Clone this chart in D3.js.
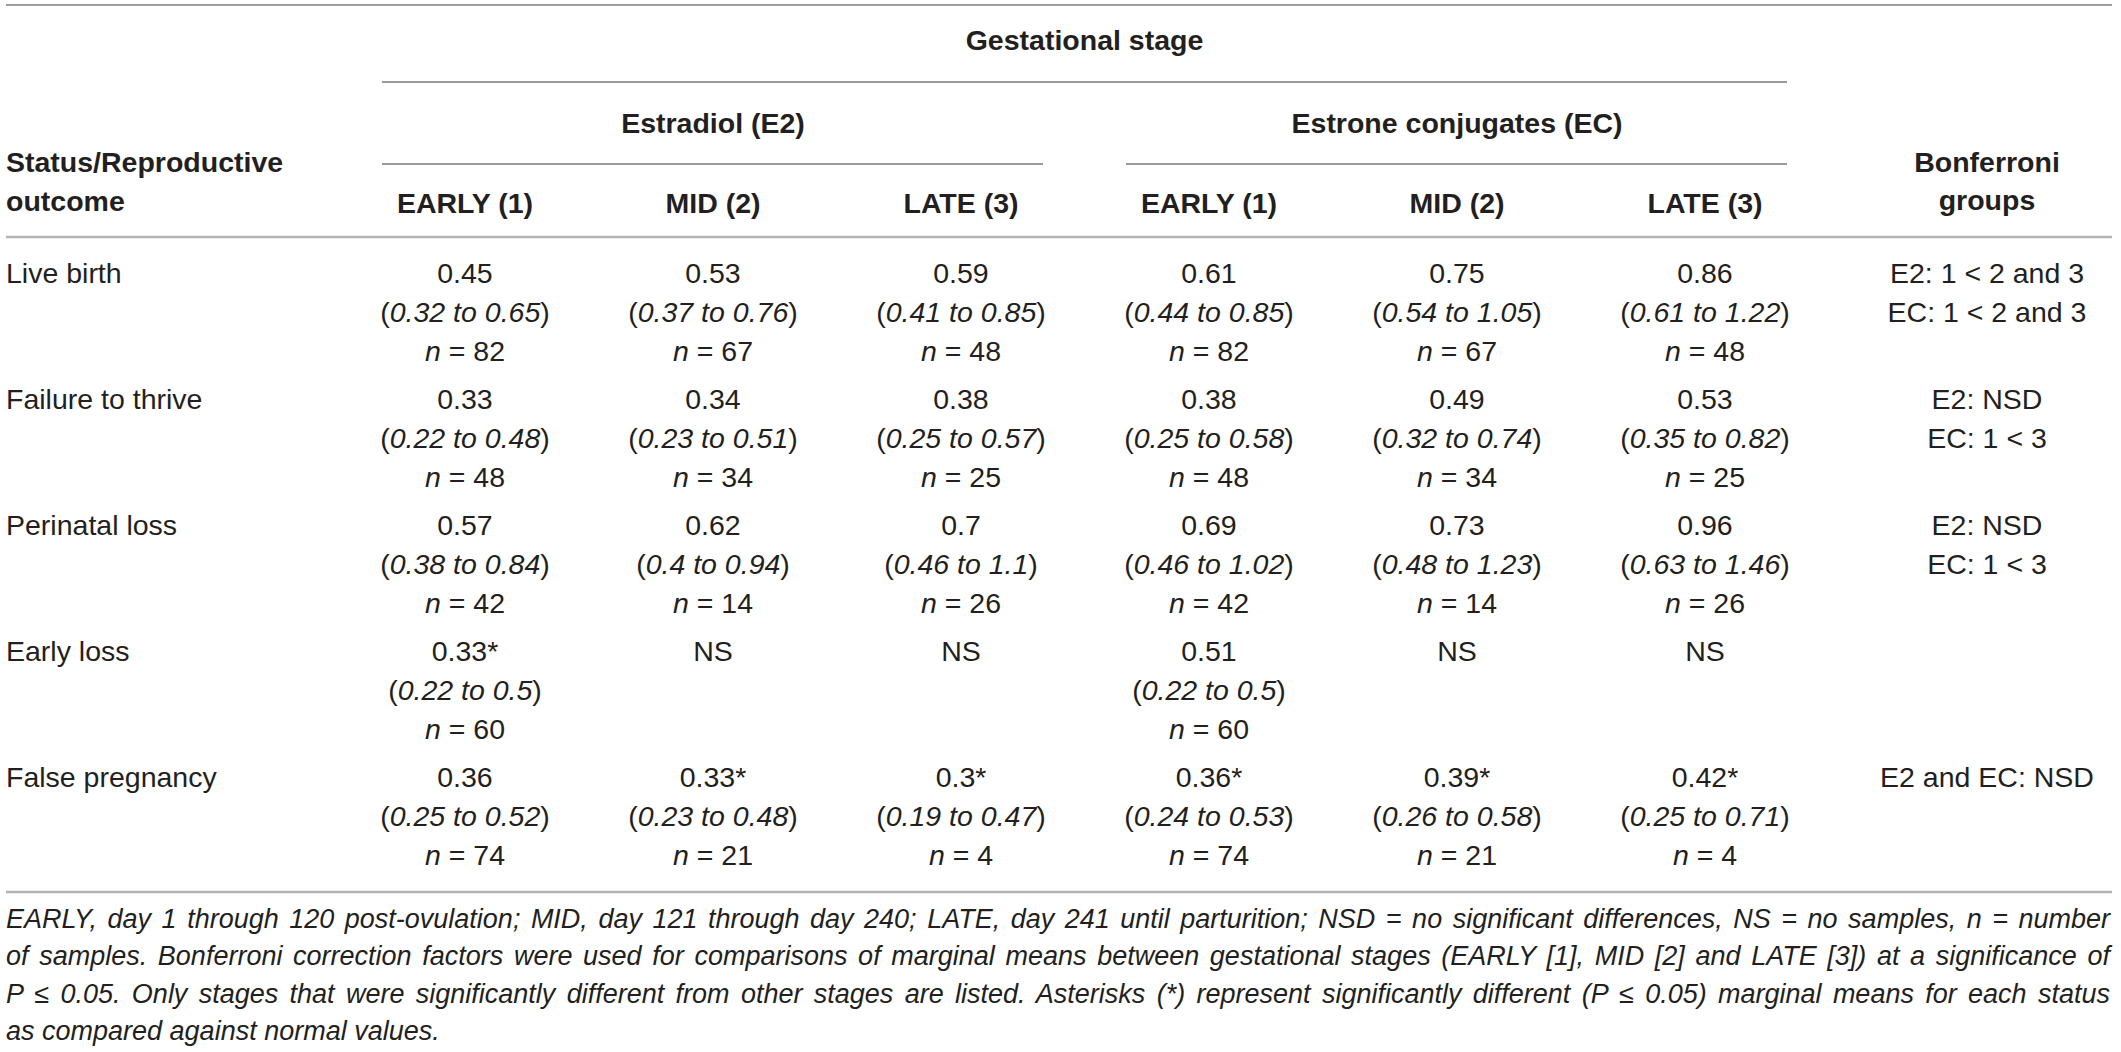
<!DOCTYPE html>
<html><head><meta charset="utf-8">
<script src="https://cdn.jsdelivr.net/npm/d3@7"></script>
<style>body{margin:0;background:#fff}svg{display:block;background:#fff}</style>
</head><body><svg id="c" width="2121" height="1052"></svg>
<script>
// ---------- data ----------
const outcomes = ["Live birth", "Failure to thrive", "Perinatal loss", "Early loss", "False pregnancy"];
const stages = ["EARLY (1)", "MID (2)", "LATE (3)"];
const hormones = ["Estradiol (E2)", "Estrone conjugates (EC)"];

const e2Mean = [[0.45, 0.53, 0.59], [0.33, 0.34, 0.38], [0.57, 0.62, 0.7], [0.33, null, null], [0.36, 0.33, 0.3]];
const e2Low  = [[0.32, 0.37, 0.41], [0.22, 0.23, 0.25], [0.38, 0.4, 0.46], [0.22, null, null], [0.25, 0.23, 0.19]];
const e2High = [[0.65, 0.76, 0.85], [0.48, 0.51, 0.57], [0.84, 0.94, 1.1], [0.5, null, null], [0.52, 0.48, 0.47]];
const e2N    = [[82, 67, 48], [48, 34, 25], [42, 14, 26], [60, null, null], [74, 21, 4]];
const e2Star = [[0, 0, 0], [0, 0, 0], [0, 0, 0], [1, 0, 0], [0, 1, 1]];

const ecMean = [[0.61, 0.75, 0.86], [0.38, 0.49, 0.53], [0.69, 0.73, 0.96], [0.51, null, null], [0.36, 0.39, 0.42]];
const ecLow  = [[0.44, 0.54, 0.61], [0.25, 0.32, 0.35], [0.46, 0.48, 0.63], [0.22, null, null], [0.24, 0.26, 0.25]];
const ecHigh = [[0.85, 1.05, 1.22], [0.58, 0.74, 0.82], [1.02, 1.23, 1.46], [0.5, null, null], [0.53, 0.58, 0.71]];
const ecN    = [[82, 67, 48], [48, 34, 25], [42, 14, 26], [60, null, null], [74, 21, 4]];
const ecStar = [[0, 0, 0], [0, 0, 0], [0, 0, 0], [0, 0, 0], [1, 1, 1]];

const bonferroni = [
  ["E2: 1 < 2 and 3", "EC: 1 < 2 and 3"],
  ["E2: NSD", "EC: 1 < 3"],
  ["E2: NSD", "EC: 1 < 3"],
  [],
  ["E2 and EC: NSD"]
];

const footnote = [
  "EARLY, day 1 through 120 post-ovulation; MID, day 121 through day 240; LATE, day 241 until parturition; NSD = no significant differences, NS = no samples, n = number",
  "of samples. Bonferroni correction factors were used for comparisons of marginal means between gestational stages (EARLY [1], MID [2] and LATE [3]) at a significance of",
  "P \u2264 0.05. Only stages that were significantly different from other stages are listed. Asterisks (*) represent significantly different (P \u2264 0.05) marginal means for each status",
  "as compared against normal values."
];

// ---------- layout ----------
const svg = d3.select("#c");
const FONT = "'Liberation Sans', Arial, Helvetica, sans-serif";
const INK = "#231f20";
const FS = 28.5;
const LEFT = 6, RIGHT = 2112;

const xCol = d3.scaleBand().domain(d3.range(6)).range([341, 1829]);
const cx = i => xCol(i) + xCol.bandwidth() / 2;
const bonfX = 1987;
const yRow = d3.scaleBand().domain(outcomes).range([246, 876]);
const LINE = 39;

function hline(x1, x2, y, color, w) {
  svg.append("line").attr("x1", x1).attr("x2", x2).attr("y1", y).attr("y2", y)
    .attr("stroke", color).attr("stroke-width", w);
}
function txt(x, y, s, opts = {}) {
  return svg.append("text").attr("x", x).attr("y", y)
    .attr("font-family", FONT).attr("font-size", opts.size || FS)
    .attr("font-weight", opts.bold ? "bold" : "normal")
    .attr("font-style", opts.italic ? "italic" : "normal")
    .attr("text-anchor", opts.anchor || "middle")
    .attr("fill", INK).text(s);
}

// rules
hline(LEFT, RIGHT, 5, "#7d7d7d", 1.5);
hline(xCol(0) + 41, xCol(5) + xCol.bandwidth() - 42, 82, "#7a7a7a", 1.5);
hormones.forEach((h, g) => {
  hline(xCol(3 * g) + 41, xCol(3 * g + 2) + xCol.bandwidth() - 42, 164, "#7a7a7a", 1.5);
});
hline(LEFT, RIGHT, 237, "#b3b3b3", 2.5);
hline(LEFT, RIGHT, 892, "#b3b3b3", 2.5);

// header
txt((xCol(0) + 41 + xCol(5) + xCol.bandwidth() - 42) / 2, 50, "Gestational stage", {bold: true});
hormones.forEach((h, g) => txt(cx(3 * g + 1), 133, h, {bold: true}));
d3.range(6).forEach(i => txt(cx(i), 213, stages[i % 3], {bold: true}));
txt(LEFT, 172, "Status/Reproductive", {bold: true, anchor: "start"});
txt(LEFT, 211, "outcome", {bold: true, anchor: "start"});
txt(bonfX, 172, "Bonferroni", {bold: true});
txt(bonfX, 210, "groups", {bold: true});

// body
outcomes.forEach((o, r) => {
  const y0 = yRow(o) + 37;
  txt(LEFT, y0, o, {anchor: "start"});
  d3.range(6).forEach(c => {
    const j = c % 3;
    const src = c < 3 ? [e2Mean, e2Low, e2High, e2N, e2Star] : [ecMean, ecLow, ecHigh, ecN, ecStar];
    const m = src[0][r][j];
    const x = cx(c);
    if (m === null) { txt(x, y0, "NS"); return; }
    txt(x, y0, String(m) + (src[4][r][j] ? "*" : ""));
    const ci = txt(x, y0 + LINE, "");
    ci.append("tspan").text("(");
    ci.append("tspan").attr("font-style", "italic").text(src[1][r][j] + " to " + src[2][r][j]);
    ci.append("tspan").text(")");
    const nn = txt(x, y0 + 2 * LINE, "");
    nn.append("tspan").attr("font-style", "italic").text("n");
    nn.append("tspan").text(" = " + src[3][r][j]);
  });
  bonferroni[r].forEach((b, k) => txt(bonfX, y0 + k * LINE, b));
});

// footnote (justified, sized so spacing stays natural)
const FN0 = 24.6;
const fnTexts = footnote.map((line, i) =>
  txt(LEFT, 928 + 37.3 * i, line, {italic: true, anchor: "start", size: FN0}));
const target = RIGHT - 2 - LEFT;
const maxW = d3.max(fnTexts.slice(0, -1), t => t.node().getComputedTextLength());
const fnSize = Math.min(27, FN0 * (target - 20) / maxW);
fnTexts.forEach((t, i) => {
  t.attr("font-size", fnSize);
  if (i < footnote.length - 1) {
    const w = t.node().getComputedTextLength();
    const spaces = (footnote[i].match(/ /g) || []).length;
    t.attr("word-spacing", (target - w) / spaces);
  }
});
</script></body></html>
